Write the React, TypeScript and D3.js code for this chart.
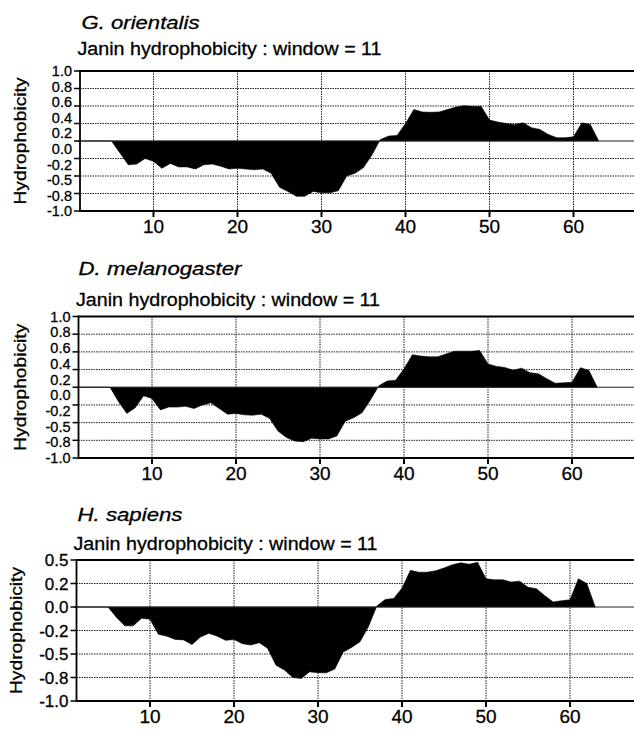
import * as d3 from 'd3';

// Janin hydrophobicity profiles (window = 11), residues 1..63
const orientalis = [
  0, 0, 0, 0, 0, -0.17, -0.34, -0.33, -0.25, -0.29,
  -0.39, -0.32, -0.37, -0.37, -0.4, -0.34, -0.33, -0.36, -0.4, -0.39,
  -0.4, -0.41, -0.4, -0.46, -0.66, -0.72, -0.79, -0.79, -0.72, -0.74,
  -0.74, -0.71, -0.5, -0.46, -0.38, -0.2, 0.02, 0.07, 0.08, 0.25,
  0.45, 0.415, 0.41, 0.415, 0.45, 0.486, 0.505, 0.495, 0.495, 0.3,
  0.27, 0.25, 0.236, 0.26, 0.19, 0.165, 0.094, 0.047, 0.047, 0.06,
  0.26, 0.236, 0,
];
const melanogaster = [
  0, 0, 0, 0, 0, -0.2, -0.37, -0.29, -0.12, -0.16,
  -0.32, -0.28, -0.28, -0.27, -0.3, -0.25, -0.22, -0.3, -0.38, -0.37,
  -0.39, -0.395, -0.38, -0.44, -0.62, -0.71, -0.76, -0.77, -0.72, -0.73,
  -0.73, -0.69, -0.48, -0.43, -0.36, -0.18, 0.02, 0.088, 0.1, 0.26,
  0.46, 0.44, 0.43, 0.43, 0.47, 0.51, 0.51, 0.51, 0.52, 0.33,
  0.295, 0.28, 0.24, 0.27, 0.205, 0.19, 0.12, 0.057, 0.062, 0.07,
  0.276, 0.24, 0,
];
const sapiens = [
  0, 0, 0, 0, 0, -0.11, -0.2, -0.2, -0.12, -0.13,
  -0.29, -0.31, -0.345, -0.35, -0.4, -0.32, -0.28, -0.31, -0.355, -0.345,
  -0.39, -0.405, -0.38, -0.44, -0.62, -0.67, -0.75, -0.76, -0.69, -0.7,
  -0.7, -0.66, -0.48, -0.43, -0.37, -0.21, 0.01, 0.08, 0.09, 0.2,
  0.39, 0.37, 0.37, 0.385, 0.415, 0.45, 0.47, 0.455, 0.475, 0.3,
  0.29, 0.29, 0.265, 0.275, 0.21, 0.195, 0.12, 0.053, 0.067, 0.077,
  0.3, 0.25, 0,
];

const xTicks = [10, 20, 30, 40, 50, 60];
const yTicksFull = [1, 0.75, 0.5, 0.25, 0, -0.25, -0.5, -0.75, -1];
const yLabelsFull = ['1.0', '0.8', '0.6', '0.4', '0.2', '0.0', '-0.2', '-0.5', '-0.8', '-1.0'];
const yTicksHs = [0.5, 0.25, 0, -0.25, -0.5, -0.75, -1];
const yLabelsHs = ['0.5', '0.2', '0.0', '-0.2', '-0.5', '-0.8', '-1.0'];

const subtitle = 'Janin hydrophobicity : window = 11';
const font = 'Liberation Sans, Arial, Helvetica, sans-serif';

const panels = [
  {
    title: 'G. orientalis', data: orientalis, domain: [-1, 1], ticks: yTicksFull, labels: yLabelsFull,
    top: 71, bottom: 211, left: 80, titleX: 81.5, titleY: 28.5, titleLen: 118, subX: 77.5, subY: 55,
    axisTitleX: 25.5, labelSize: 14.5,
  },
  {
    title: 'D. melanogaster', data: melanogaster, domain: [-1, 1], ticks: yTicksFull, labels: yLabelsFull,
    top: 316.5, bottom: 458, left: 78.5, titleX: 78.5, titleY: 275, titleLen: 163, subX: 76, subY: 305.5,
    axisTitleX: 25.5, labelSize: 14.5,
  },
  {
    title: 'H. sapiens', data: sapiens, domain: [-1, 0.5], ticks: yTicksHs, labels: yLabelsHs,
    top: 560, bottom: 701, left: 76.5, titleX: 77.5, titleY: 520.5, titleLen: 105, subX: 73.5, subY: 550,
    axisTitleX: 22, labelSize: 17,
  },
];

function Panel({ p }: { p: any }) {
  const x = d3.scaleLinear().domain([1.25, 67.2]).range([p.left, p.left + 554]);
  const y = d3.scaleLinear().domain(p.domain).range([p.bottom, p.top]);
  const labelPos = d3.scalePoint<string>().domain(p.labels).range([p.top, p.bottom]);
  const area = d3.area<number>()
    .x((_, i) => x(i + 1))
    .y0(y(0))
    .y1(d => y(d));
  const right = 634;
  const midY = (p.top + p.bottom) / 2;

  return (
    <g fontFamily={font} stroke="none">
      <g stroke="#000" strokeWidth={0.3}>
        <text x={p.titleX} y={p.titleY} fontSize={19} fontStyle="italic" textLength={p.titleLen} lengthAdjust="spacingAndGlyphs">{p.title}</text>
        <text x={p.subX} y={p.subY} fontSize={18} textLength={304} lengthAdjust="spacingAndGlyphs">{subtitle}</text>
        <text transform={`translate(${p.axisTitleX},${midY}) rotate(-90)`} textAnchor="middle" fontSize={17} textLength={127} lengthAdjust="spacingAndGlyphs">Hydrophobicity</text>
      </g>

      {/* dotted grid */}
      {p.ticks.filter((t: number) => t !== p.domain[0] && t !== p.domain[1] && t !== 0).map((t: number) => (
        <line key={'h' + t} x1={p.left} x2={right} y1={y(t)} y2={y(t)} stroke="#222" strokeWidth={1} strokeDasharray="1.5,1" />
      ))}
      {xTicks.map(t => (
        <line key={'v' + t} x1={x(t)} x2={x(t)} y1={p.top} y2={p.bottom} stroke="#222" strokeWidth={1} strokeDasharray="1.5,1" />
      ))}

      <path d={area(p.data) || ''} fill="#000" stroke="#000" strokeWidth={0.6} />
      <line x1={p.left} x2={right} y1={y(0)} y2={y(0)} stroke="#222" strokeWidth={1.2} />

      {/* frame */}
      <line x1={p.left} x2={right} y1={p.top} y2={p.top} stroke="#000" strokeWidth={2} />
      <line x1={p.left} x2={right} y1={p.bottom} y2={p.bottom} stroke="#000" strokeWidth={2} />
      <line x1={p.left} x2={p.left} y1={p.top - 1} y2={p.bottom + 1} stroke="#000" strokeWidth={1.8} />

      {/* y axis ticks and labels */}
      {p.ticks.map((t: number) => (
        <line key={'yt' + t} x1={p.left - 6} x2={p.left} y1={y(t)} y2={y(t)} stroke="#000" strokeWidth={1.5} />
      ))}
      {p.labels.map((l: string) => (
        <text key={'yl' + l} x={p.left - 8} y={labelPos(l)} dy="0.36em" textAnchor="end" fontSize={p.labelSize} stroke="#000" strokeWidth={0.3}>{l}</text>
      ))}

      {/* x axis ticks and labels */}
      {xTicks.map(t => (
        <g key={'xt' + t}>
          <line x1={x(t)} x2={x(t)} y1={p.bottom} y2={p.bottom + 6} stroke="#000" strokeWidth={2} />
          <text x={x(t)} y={p.bottom + 22} textAnchor="middle" fontSize={19} stroke="#000" strokeWidth={0.3}>{t}</text>
        </g>
      ))}
    </g>
  );
}

export default function App() {
  return (
    <svg width={634} height={733} viewBox="0 0 634 733" style={{ position: 'absolute', left: 0, top: 0, background: '#fff' }}>
      <rect width={634} height={733} fill="#fff" />
      {panels.map(p => <Panel key={p.title} p={p} />)}
    </svg>
  );
}
